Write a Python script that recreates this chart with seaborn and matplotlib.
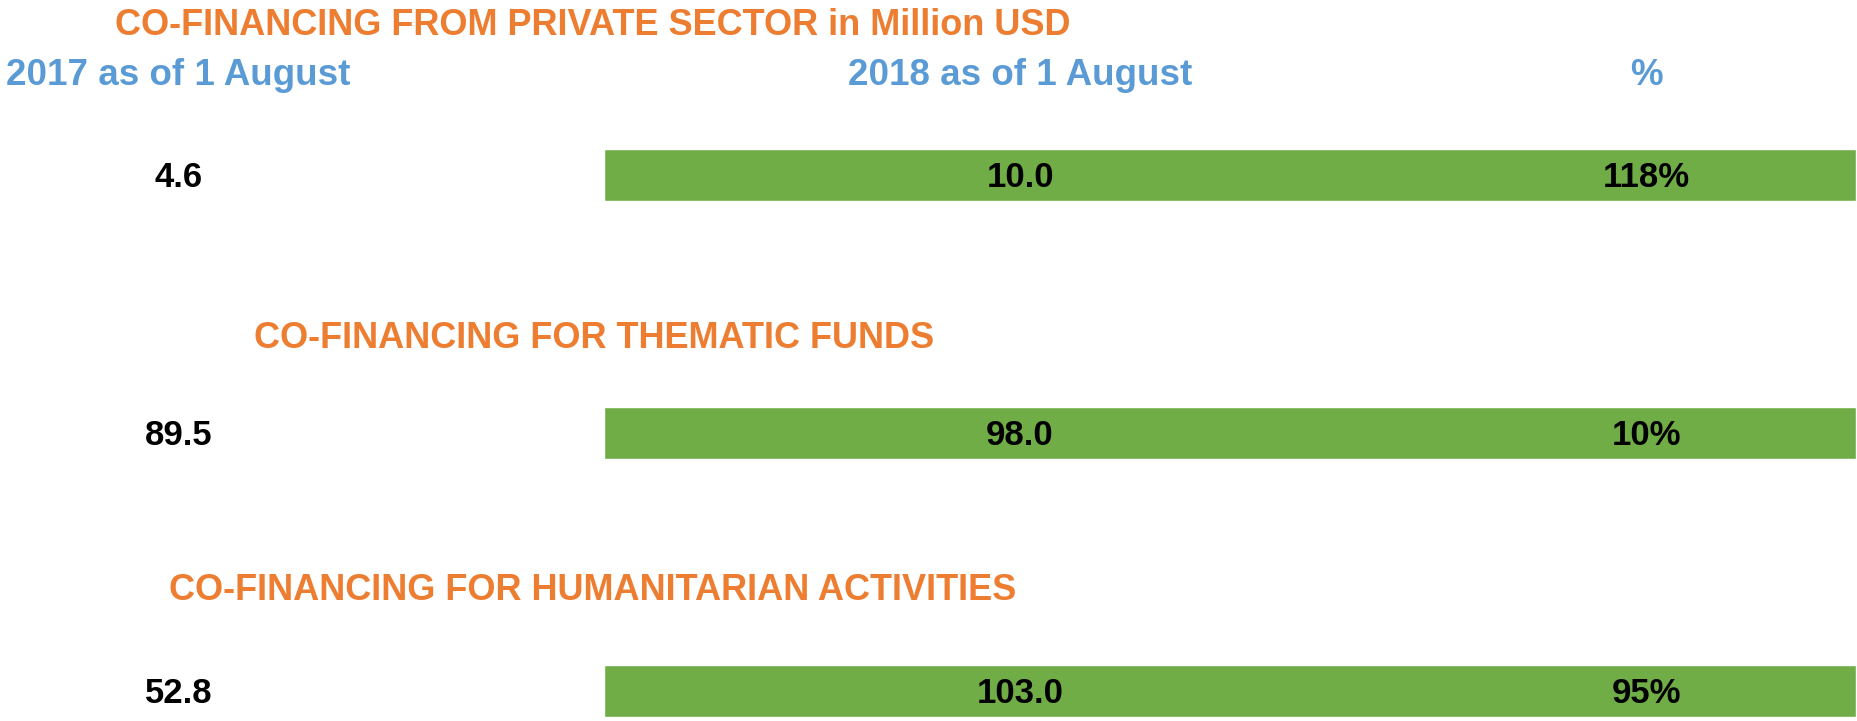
import pandas as pd
import seaborn as sns
import matplotlib.pyplot as plt

# values
titles = ["CO-FINANCING FROM PRIVATE SECTOR in Million USD",
          "CO-FINANCING FOR THEMATIC FUNDS",
          "CO-FINANCING FOR HUMANITARIAN ACTIVITIES"]
headers = ["2017 as of 1 August", "2018 as of 1 August", "%"]
values_2017 = [4.6, 89.5, 52.8]
values_2018 = [10.0, 98.0, 103.0]
pct_change = [118, 10, 95]

# layout (axis fraction of the figure width)
col_x = [0.096, 0.549, 0.886]
bar_start, bar_end = 0.325, 0.999
title_x = [0.319, 0.320, 0.319]
title_dy = [-0.58, -0.365, -0.39]
num_dy = 0.01

orange = "#ED7D31"
blue = "#5B9BD5"
green = "#70AD47"

sns.set_theme(style="white")
plt.rcParams["font.family"] = ["Liberation Sans", "DejaVu Sans"]

df = pd.DataFrame({"row": [0, 1, 2],
                   "span": [bar_end - bar_start] * 3})

fig = plt.figure(figsize=(18.58, 7.21), dpi=100)
ax = fig.add_axes([0, 0, 1, 1])
sns.barplot(data=df, y="row", x="span", orient="y", color=green,
            width=0.2, left=bar_start, saturation=1, ax=ax)

ax.set_xlim(0, 1)
ax.set_ylim(2.116, -0.678)
ax.axis("off")

for i in range(3):
    ax.text(title_x[i], i + title_dy[i], titles[i], color=orange,
            fontsize=26, fontweight="bold", ha="center", va="center")
    ax.text(col_x[0], i + num_dy, f"{values_2017[i]:.1f}", fontsize=25,
            fontweight="bold", ha="center", va="center", color="black")
    ax.text(col_x[1], i + num_dy, f"{values_2018[i]:.1f}", fontsize=25,
            fontweight="bold", ha="center", va="center", color="black")
    ax.text(col_x[2], i + num_dy, f"{pct_change[i]}%", fontsize=25,
            fontweight="bold", ha="center", va="center", color="black")

for x, h in zip(col_x, headers):
    ax.text(x, -0.385, h, color=blue, fontsize=26.5, fontweight="bold",
            ha="center", va="center")

fig.savefig("out.png", dpi=100)
